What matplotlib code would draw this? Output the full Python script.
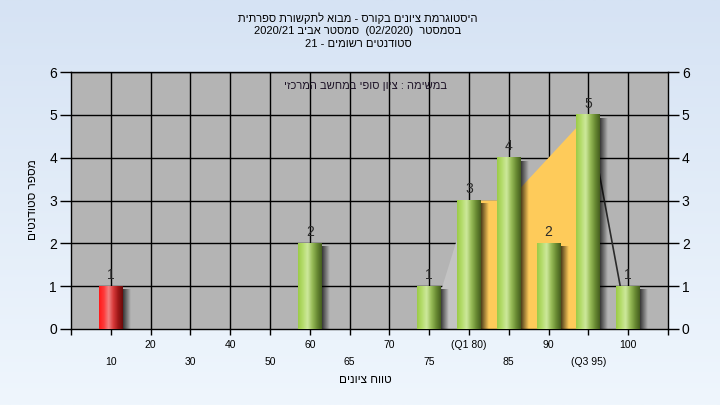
import numpy as np
import matplotlib
matplotlib.use("Agg")
import matplotlib.pyplot as plt
from matplotlib.colors import LinearSegmentedColormap

plt.rcParams['font.family'] = ['Liberation Sans', 'DejaVu Sans']

# grade buckets and number of students in each
grades = ['10', '20', '30', '40', '50', '60', '65', '70', '75', '(Q1 80)', '85', '90', '(Q3 95)', '100']
counts = [1, 0, 0, 0, 0, 2, 0, 0, 1, 3, 4, 2, 5, 1]
failed = [True] + [False] * 13

# quartile shape drawn behind the bars (category index, height)
shape_x = [9, 10, 11, 13, 14]
shape_y = [0, 3, 3, 5, 0]

title_lines = ["היסטוגרמת ציונים בקורס - מבוא לתקשורת ספרתית",
               "בסמסטר  (02/2020)  סמסטר אביב 2020/21",
               "סטודנטים רשומים - 21"]
note = "במשימה : ציון סופי במחשב המרכזי"
xlabel = "טווח ציונים"
ylabel = "מספר סטודנטים"


def heb(s):
    # crude visual ordering for right-to-left text: reverse words, reverse hebrew words
    out = []
    for tok in reversed(s.split(' ')):
        if any('\u0590' <= c <= '\u05ff' for c in tok):
            out.append(tok[::-1])
        else:
            out.append(tok)
    return ' '.join(out)


fig = plt.figure(figsize=(7.2, 4.05), dpi=100)

# light blue backdrop
bg = fig.add_axes([0, 0, 1, 1], zorder=-10)
grad = np.linspace(0, 1, 256).reshape(-1, 1)
bg_cmap = LinearSegmentedColormap.from_list('bg', ['#d6e3f4', '#eff6fd'])
bg.imshow(grad, aspect='auto', cmap=bg_cmap, extent=[0, 1, 0, 1])
bg.axis('off')

ax = fig.add_axes([71 / 720, 1 - 329 / 405, 597 / 720, 257 / 405])
ax.set_facecolor('#b4b4b4')
n = len(grades)

for gx in range(1, n + 1):
    ax.axvline(gx, color='black', lw=1.0, zorder=1)
for gy in range(1, 7):
    ax.axhline(gy, color='black', lw=1.0, zorder=1)

# quartile shape: rising whisker, box, falling whisker
ax.fill([shape_x[0], shape_x[1], shape_x[1]], [0, shape_y[1], 0], color='#c3c3c3', zorder=2, lw=0)
ax.fill([shape_x[1]] + shape_x[1:4] + [shape_x[3]], [0] + shape_y[1:4] + [0], color='#fecb5a', zorder=2, lw=0)
ax.plot(shape_x[3:], shape_y[3:], color='#2a2a2a', lw=1.2, zorder=2)

green = LinearSegmentedColormap.from_list('g', ['#9ccb48', '#b5dc6c', '#cde89c', '#98bc58', '#6a8c34', '#455e1e'])
red = LinearSegmentedColormap.from_list('r', ['#ff1a1a', '#ff3a3a', '#f08484', '#d83a3a', '#a01818', '#6a0c0c'])
hgrad = np.linspace(0, 1, 64).reshape(1, -1)
w = 0.6
for i, (c, bad) in enumerate(zip(counts, failed)):
    x = i + 1
    if c <= 0:
        continue
    # soft shadow on the right
    sh = np.zeros((1, 32, 4))
    sh[..., 3] = np.linspace(0.7, 0.0, 32)
    ax.imshow(sh, aspect='auto', extent=[x + w / 2, x + w / 2 + 0.2, 0, c - 0.08],
              zorder=3, interpolation='bilinear')
    ax.imshow(hgrad, aspect='auto', cmap=red if bad else green,
              extent=[x - w / 2, x + w / 2, 0, c], zorder=4, interpolation='bilinear')
    ax.text(x, c + 0.1, str(c), ha='center', va='bottom', fontsize=10, color='#2a2a2a', zorder=5)

ax.set_xlim(0, n + 1)
ax.set_ylim(0, 6)

ax.text(7.41, 5.67, heb(note), ha='center', va='center', fontsize=8, color='#1e1428', zorder=5)

ax.set_xticks(range(0, n + 2))
ax.set_xticklabels([])
ax.tick_params(axis='x', length=4, width=1, color='black')
for i, g in enumerate(grades):
    yoff = -16 / 257 if i % 2 == 1 else -33 / 257
    ax.text(i + 1, yoff, g, transform=ax.get_xaxis_transform(), ha='center', va='center', fontsize=7.5)

ax.set_yticks(range(0, 7))
ax.tick_params(axis='y', length=8, width=1, labelsize=10, left=True, right=True,
               labelleft=True, labelright=True, pad=2)
for s in ax.spines.values():
    s.set_color('black')
    s.set_linewidth(1)

fig.text(33 / 720, 1 - 200 / 405, heb(ylabel), rotation=90, ha='center', va='center', fontsize=8.5)
fig.text(365 / 720, 1 - 380 / 405, heb(xlabel), ha='center', va='center', fontsize=8.5)

for k, line in enumerate(title_lines):
    fig.text(358 / 720, 1 - (18 + 13 * k) / 405, heb(line), ha='center', va='center', fontsize=8)

fig.savefig('out.png', dpi=100)
